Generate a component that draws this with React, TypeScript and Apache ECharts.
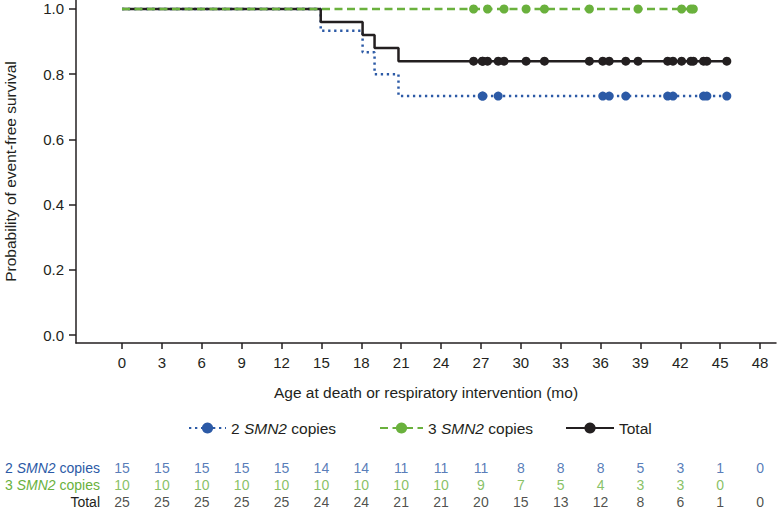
import React, { useEffect, useRef } from 'react';
import * as echarts from 'echarts';

const FONT = '"Liberation Sans", Arial, Helvetica, sans-serif';
const BLUE = '#2c5aa6';
const GREEN = '#6ab13d';
const BLACK = '#231f20';

const xTicks = [0, 3, 6, 9, 12, 15, 18, 21, 24, 27, 30, 33, 36, 39, 42, 45, 48];
const yTicks = [0, 0.2, 0.4, 0.6, 0.8, 1.0];

// Kaplan-Meier events (months) and survival after each event
const eventTimes = [14.95, 18.1, 19.0, 20.8];
const survTwo = [0.933, 0.867, 0.8, 0.733];
const survTotal = [0.96, 0.92, 0.88, 0.84];

// Censored observations (months)
const censorTwo = [27.1, 27.15, 28.3, 36.17, 36.65, 37.9, 41.05, 41.45, 43.75, 44.0, 45.5];
const censorThree = [26.45, 27.5, 28.74, 30.4, 31.78, 35.16, 38.82, 42.1, 42.8, 42.98];
const censorTotal = [26.45, 27.1, 27.15, 27.5, 28.3, 28.74, 30.4, 31.78, 35.16, 36.17, 36.65, 37.9, 38.82, 41.05, 41.45, 42.1, 42.8, 42.98, 43.75, 44.0, 45.5];

// Numbers at risk
const riskTimes = xTicks;
const riskTwo = [15, 15, 15, 15, 15, 14, 14, 11, 11, 11, 8, 8, 8, 5, 3, 1, 0];
const riskThree = [10, 10, 10, 10, 10, 10, 10, 10, 10, 9, 7, 5, 4, 3, 3, 0];
const riskTotal = [25, 25, 25, 25, 25, 24, 24, 21, 21, 20, 15, 13, 12, 8, 6, 1, 0];

const rowNames = ['2 SMN2 copies', '3 SMN2 copies', 'Total'];

const X_MIN = -3.46;
const X_MAX = 49.2;

function km(times: number[], surv: number[], censors: number[]) {
  const pts: any[] = [{ value: [0, 1], symbol: 'none' }];
  times.forEach((t, i) => pts.push({ value: [t, surv[i]], symbol: 'none' }));
  const last = surv.length ? surv[surv.length - 1] : 1;
  censors.forEach((c) => pts.push({ value: [c, last] }));
  return pts;
}

function riskSeries(name: string, values: number[], rowIdx: number, color: string) {
  return {
    type: 'scatter',
    name,
    xAxisIndex: 1,
    yAxisIndex: 1,
    silent: true,
    symbolSize: 1,
    itemStyle: { color: 'rgba(0,0,0,0)' },
    label: {
      show: true,
      position: 'inside',
      formatter: (p: any) => String(p.value[2]),
      color,
      fontSize: 14,
      fontFamily: FONT,
    },
    data: values.map((n, i) => [riskTimes[i], rowNames[rowIdx], n]),
  };
}

function legendFor(name: string, left: number, width: number) {
  return {
    data: [name],
    left,
    top: 415,
    itemWidth: width,
    itemHeight: 14,
    textStyle: {
      fontSize: 15.5,
      color: BLACK,
      fontFamily: FONT,
      rich: { i: { fontStyle: 'italic', fontSize: 15.5, color: BLACK, fontFamily: FONT } },
    },
    formatter: (n: string) => n.replace('SMN2', '{i|SMN2}'),
  };
}

export default function App() {
  const ref = useRef<HTMLDivElement>(null);
  useEffect(() => {
    if (!ref.current) return;
    const chart = echarts.init(ref.current, undefined, { renderer: 'svg' });
    const lineBase = {
      type: 'line',
      step: 'end',
      symbol: 'circle',
      symbolSize: 9,
      showSymbol: true,
      xAxisIndex: 0,
      yAxisIndex: 0,
    };
    chart.setOption({
      animation: false,
      textStyle: { fontFamily: FONT },
      grid: [
        { left: 76, top: 0, width: 700, height: 343, containLabel: false, outerBoundsMode: 'none' },
        { left: 76, top: 459, width: 700, height: 52, containLabel: false, outerBoundsMode: 'none' },
      ],
      legend: [
        legendFor(rowNames[0], 183, 37),
        legendFor(rowNames[1], 374, 43),
        legendFor(rowNames[2], 560, 48),
      ],
      xAxis: [
        {
          type: 'value',
          gridIndex: 0,
          min: X_MIN,
          max: X_MAX,
          splitLine: { show: false },
          axisLine: { onZero: false, lineStyle: { color: BLACK, width: 1.5 } },
          axisTick: { customValues: xTicks, length: 6, lineStyle: { color: BLACK, width: 1.5 } },
          axisLabel: { customValues: xTicks, fontSize: 15, color: BLACK, margin: 12, fontFamily: FONT },
          name: 'Age at death or respiratory intervention (mo)',
          nameLocation: 'middle',
          nameGap: 41,
          nameTextStyle: { fontSize: 15.5, color: BLACK, fontFamily: FONT },
        },
        {
          type: 'value',
          gridIndex: 1,
          min: X_MIN,
          max: X_MAX,
          show: false,
          splitLine: { show: false },
        },
      ],
      yAxis: [
        {
          type: 'value',
          gridIndex: 0,
          min: -0.0245,
          max: 1.0276,
          splitLine: { show: false },
          axisLine: { show: true, onZero: false, lineStyle: { color: BLACK, width: 1.5 } },
          axisTick: { show: true, customValues: yTicks, length: 7, lineStyle: { color: BLACK, width: 1.5 } },
          axisLabel: {
            customValues: yTicks,
            formatter: (v: number) => v.toFixed(1),
            fontSize: 15,
            color: BLACK,
            margin: 12,
            fontFamily: FONT,
          },
          name: 'Probability of event-free survival',
          nameLocation: 'middle',
          nameGap: 58,
          nameTextStyle: { fontSize: 15.5, color: BLACK, fontFamily: FONT },
        },
        {
          type: 'category',
          gridIndex: 1,
          data: rowNames,
          inverse: true,
          axisLine: { show: false },
          axisTick: { show: false },
          splitLine: { show: false },
          axisLabel: {
            interval: 0,
            margin: -24,
            fontSize: 14,
            fontFamily: FONT,
            formatter: (v: string) => {
              if (v === 'Total') return '{k|Total}';
              const key = v.startsWith('2') ? 'b' : 'g';
              return `{${key}|${v.charAt(0)} }{${key}i|SMN2}{${key}| copies}`;
            },
            rich: {
              k: { color: BLACK, fontSize: 14, fontFamily: FONT },
              b: { color: BLUE, fontSize: 14, fontFamily: FONT },
              bi: { color: BLUE, fontSize: 14, fontStyle: 'italic', fontFamily: FONT },
              g: { color: GREEN, fontSize: 14, fontFamily: FONT },
              gi: { color: GREEN, fontSize: 14, fontStyle: 'italic', fontFamily: FONT },
            },
          },
        },
      ],
      series: [
        {
          ...lineBase,
          name: rowNames[0],
          itemStyle: { color: BLUE },
          lineStyle: { color: BLUE, width: 2.5, type: [2.3, 3.7] },
          data: km(eventTimes, survTwo, censorTwo),
        },
        {
          ...lineBase,
          name: rowNames[2],
          itemStyle: { color: BLACK },
          lineStyle: { color: BLACK, width: 2.5, type: 'solid' },
          data: km(eventTimes, survTotal, censorTotal),
        },
        {
          ...lineBase,
          name: rowNames[1],
          itemStyle: { color: GREEN },
          lineStyle: { color: GREEN, width: 2.5, type: [8, 4.5] },
          data: km([], [], censorThree),
        },
        riskSeries('riskTwo', riskTwo, 0, BLUE),
        riskSeries('riskThree', riskThree, 1, GREEN),
        riskSeries('riskTotal', riskTotal, 2, BLACK),
      ],
    });
    return () => chart.dispose();
  }, []);
  return (
    <div
      ref={ref}
      style={{ position: 'absolute', left: 0, top: 0, width: 777, height: 511, background: '#fff' }}
    />
  );
}
